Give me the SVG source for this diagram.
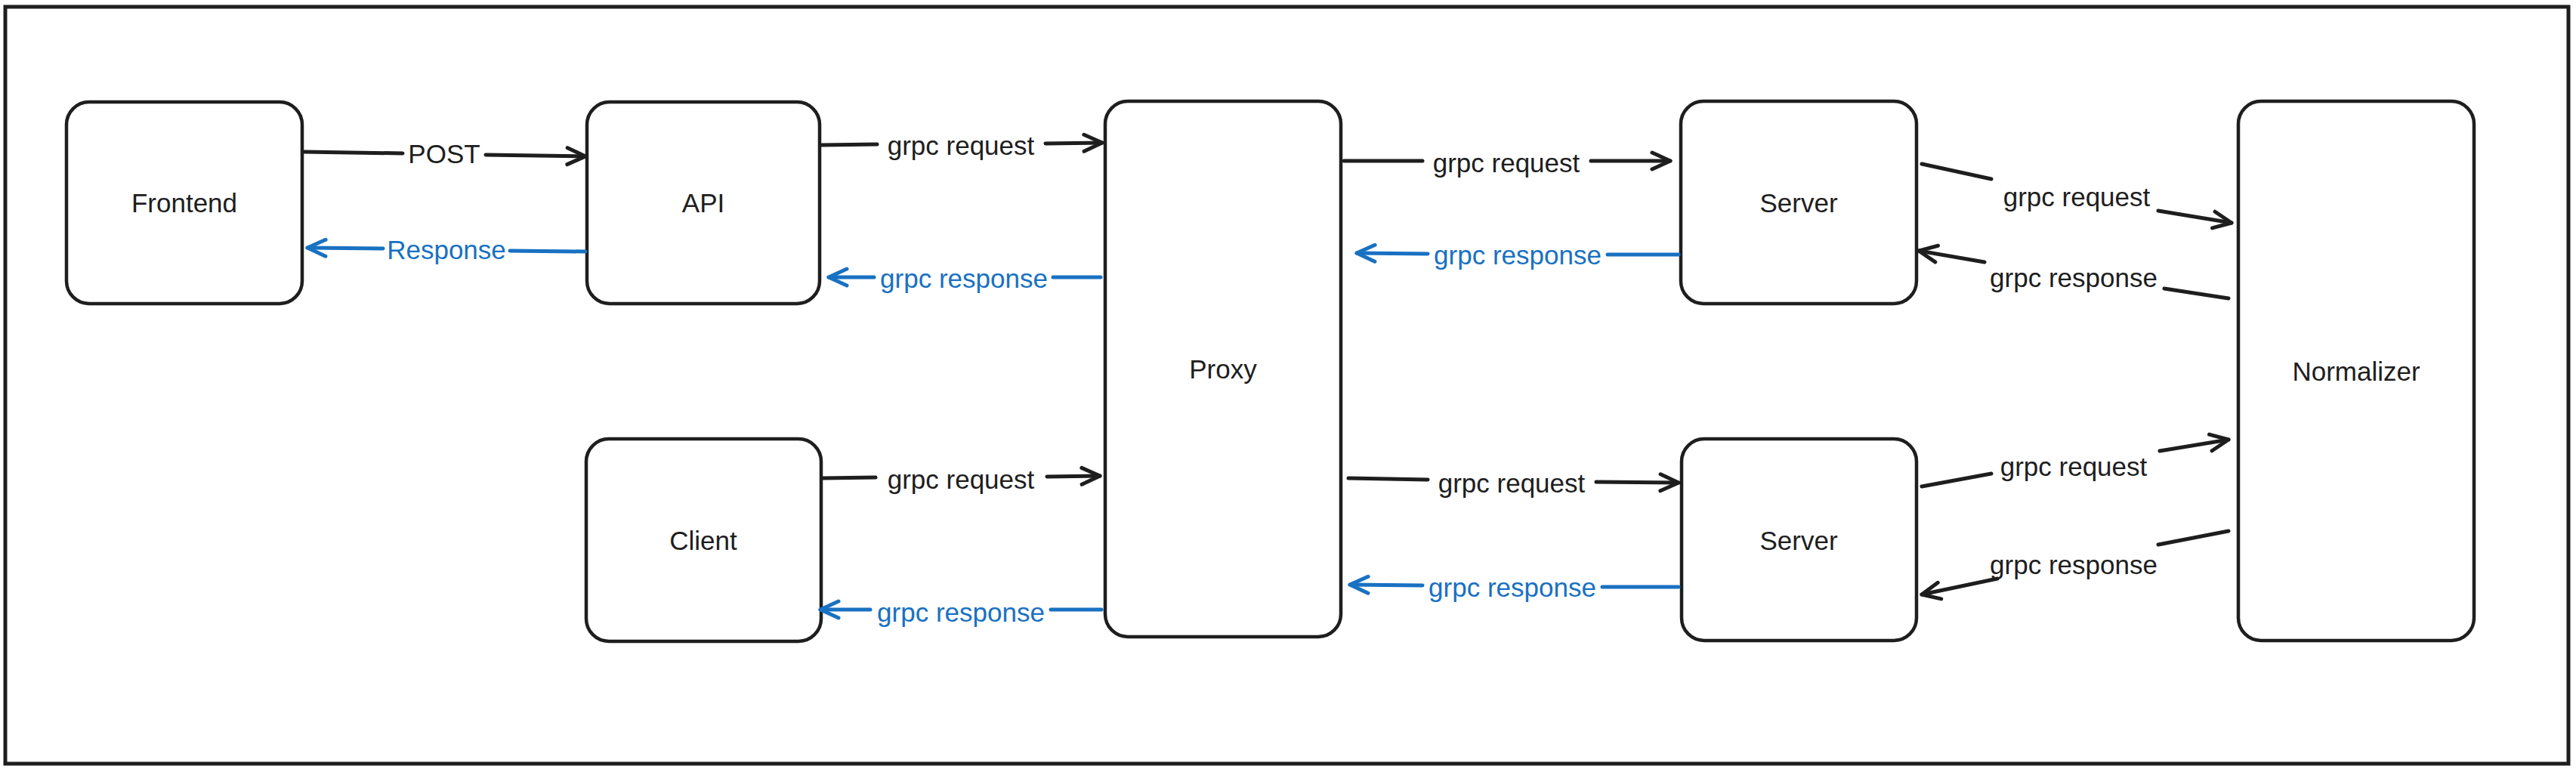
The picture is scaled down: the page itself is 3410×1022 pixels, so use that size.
<svg xmlns="http://www.w3.org/2000/svg" width="3410" height="1022" viewBox="0 0 3410 1022">
<style>
.node rect{fill:#ffffff;stroke:#1e1e1e;stroke-width:4.5}
.t{font-family:"Liberation Sans",Arial,sans-serif;font-size:35px;text-anchor:middle;dominant-baseline:central;fill:#1e1e1e}
.blk{fill:none;stroke:#1e1e1e;stroke-width:5;stroke-linecap:round}
.blu{fill:none;stroke:#1971c2;stroke-width:5;stroke-linecap:round}
.tb{fill:#1971c2}
</style>
<defs>
<marker id="ab" markerUnits="userSpaceOnUse" markerWidth="40" markerHeight="40" refX="0" refY="0" orient="auto" overflow="visible">
<path d="M-24,-11 L0,0 L-24,11" fill="none" stroke="#1e1e1e" stroke-width="5" stroke-linecap="round" stroke-linejoin="round"/>
</marker>
<marker id="au" markerUnits="userSpaceOnUse" markerWidth="40" markerHeight="40" refX="0" refY="0" orient="auto" overflow="visible">
<path d="M-24,-11 L0,0 L-24,11" fill="none" stroke="#1971c2" stroke-width="5" stroke-linecap="round" stroke-linejoin="round"/>
</marker>
</defs>
<rect x="0" y="0" width="3410" height="1022" fill="#ffffff"/>
<rect id="frame" x="7" y="9" width="3393" height="1002" fill="none" stroke="#1e1e1e" stroke-width="5"/>
<g id="frontend" class="node"><rect x="88" y="135" width="312" height="267" rx="30"/><text class="t" x="244" y="268">Frontend</text></g>
<g id="api" class="node"><rect x="777" y="135" width="308" height="267" rx="30"/><text class="t" x="931" y="268">API</text></g>
<g id="client" class="node"><rect x="776" y="581" width="311" height="268" rx="30"/><text class="t" x="931" y="715">Client</text></g>
<g id="proxy" class="node"><rect x="1463" y="134" width="312" height="709" rx="30"/><text class="t" x="1619" y="488">Proxy</text></g>
<g id="server1" class="node"><rect x="2225" y="134" width="312" height="268" rx="30"/><text class="t" x="2381" y="268">Server</text></g>
<g id="server2" class="node"><rect x="2226" y="581" width="311" height="267" rx="30"/><text class="t" x="2381" y="715">Server</text></g>
<g id="normalizer" class="node"><rect x="2963" y="134" width="312" height="714" rx="30"/><text class="t" x="3119" y="491">Normalizer</text></g>
<g id="connectors">
<g id="e1"><path class="blk" d="M402,201 L533,203"/><path class="blk" d="M643,205 L775,207" marker-end="url(#ab)"/><text class="t" x="588" y="203">POST</text></g>
<g id="e2"><path class="blu" d="M775,333 L675,332"/><path class="blu" d="M507,329 L407,328" marker-end="url(#au)"/><text class="t tb" x="591" y="330">Response</text></g>
<g id="e3"><path class="blk" d="M1088,192 L1161,191"/><path class="blk" d="M1384,190 L1459,189" marker-end="url(#ab)"/><text class="t" x="1272" y="192">grpc request</text></g>
<g id="e4"><path class="blu" d="M1457,367 L1394,367"/><path class="blu" d="M1157,367 L1097,367" marker-end="url(#au)"/><text class="t tb" x="1276" y="368">grpc response</text></g>
<g id="e5"><path class="blk" d="M1779,213 L1883,213"/><path class="blk" d="M2106,213 L2211,213" marker-end="url(#ab)"/><text class="t" x="1994" y="215">grpc request</text></g>
<g id="e6"><path class="blu" d="M2222,337 L2128,337"/><path class="blu" d="M1890,336 L1796,335" marker-end="url(#au)"/><text class="t tb" x="2009" y="337">grpc response</text></g>
<g id="e7"><path class="blk" d="M1089,633 L1159,632"/><path class="blk" d="M1386,631 L1456,630" marker-end="url(#ab)"/><text class="t" x="1272" y="634">grpc request</text></g>
<g id="e8"><path class="blu" d="M1458,807 L1391,807"/><path class="blu" d="M1152,807 L1086,807" marker-end="url(#au)"/><text class="t tb" x="1272" y="810">grpc response</text></g>
<g id="e9"><path class="blk" d="M1785,633 L1890,635"/><path class="blk" d="M2113,638 L2222,639" marker-end="url(#ab)"/><text class="t" x="2001" y="639">grpc request</text></g>
<g id="e10"><path class="blu" d="M2222,777 L2121,777"/><path class="blu" d="M1883,775 L1787,774" marker-end="url(#au)"/><text class="t tb" x="2002" y="777">grpc response</text></g>
<g id="e11"><path class="blk" d="M2544,217 L2636,237"/><path class="blk" d="M2857,279 L2954,295" marker-end="url(#ab)"/><text class="t" x="2749" y="260">grpc request</text></g>
<g id="e12"><path class="blk" d="M2950,395 L2865,382"/><path class="blk" d="M2627,347 L2540,332" marker-end="url(#ab)"/><text class="t" x="2745" y="367">grpc response</text></g>
<g id="e13"><path class="blk" d="M2544,644 L2636,627"/><path class="blk" d="M2859,597 L2950,582" marker-end="url(#ab)"/><text class="t" x="2745" y="617">grpc request</text></g>
<g id="e14"><path class="blk" d="M2950,703 L2857,721"/><path class="blk" d="M2644,766 L2544,787" marker-end="url(#ab)"/><text class="t" x="2745" y="747">grpc response</text></g>
</g>
</svg>
